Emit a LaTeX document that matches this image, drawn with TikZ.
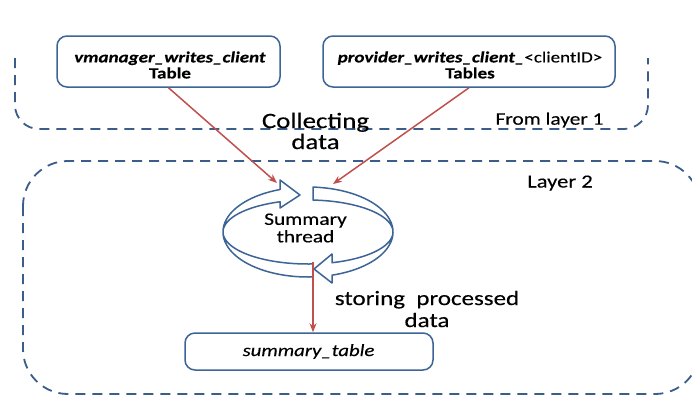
\documentclass[tikz,border=0pt]{standalone}
\usepackage{fontspec}
\setmainfont{Carlito}[FakeStretch=1.22, FakeBold=0.3]
\usetikzlibrary{arrows.meta}
\definecolor{dashblue}{RGB}{58,93,138}
\definecolor{boxblue}{RGB}{60,100,150}
\definecolor{arrred}{RGB}{192,80,77}
\tikzset{
  layer/.style={draw=dashblue, line width=1.8pt, dash pattern=on 10pt off 7pt},
  tbox/.style={draw=boxblue, line width=1.5pt, rounded corners=10pt, fill=white, inner sep=0pt},
  cyc/.style={draw=boxblue, line width=1.5pt, fill=white, line join=round},
  rarr/.style={draw=arrred, line width=1.5pt, -{Stealth[length=9pt,width=7pt]}},
  lbl/.style={align=center, inner sep=0pt, text=black}
}
\begin{document}
\begin{tikzpicture}[x=1pt,y=-1pt]
\clip (0,0) rectangle (692,397);
\fill[white] (0,0) rectangle (692,397);
% layer outlines
\draw[layer, rounded corners=24pt] (15,58) -- (15,129) -- (648,129) -- (648,58);
\draw[layer, rounded corners=45pt] (23,161) rectangle (700,394);
% boxes
\node[tbox, minimum width=223pt, minimum height=51pt] (b1) at (168.5,61.5) {};
\node[tbox, minimum width=292pt, minimum height=51pt] (b2) at (469,61.5) {};
\node[tbox, minimum width=248pt, minimum height=37pt] (st) at (309,351.5) {};
\node[lbl, font=\fontsize{15.6}{16}\selectfont] (b1t) at (170,65)
  {\textbf{\textit{vmanager\_writes\_client}}\\\textbf{Table}};
\node[lbl, font=\fontsize{15.6}{16}\selectfont] (b2t) at (470,65)
  {\textbf{\textit{provider\_writes\_client\_}}<clientID>\\\textbf{Tables}};
\node[lbl, font=\fontsize{17}{18}\selectfont] (stt) at (308.5,351.5) {\textit{summary\_table}};
% cycle arrows
\draw[cyc] plot[domain=86.6:250.8, samples=60] ({308+85*cos(\x)},{232+45*sin(\x)})
  -- (280,180) -- (300,195) -- (280,208)
  -- plot[domain=250.8:86.6, samples=60] ({308+85*cos(\x)},{232+32*sin(\x)}) -- cycle;
\draw[cyc] plot[domain=273.4:433.6, samples=60] ({308+85*cos(\x)},{232+45*sin(\x)})
  -- (332,283) -- (314,269) -- (332,254)
  -- plot[domain=433.6:273.4, samples=60] ({308+85*cos(\x)},{232+32*sin(\x)}) -- cycle;
\node[lbl, font=\fontsize{17.5}{17.5}\selectfont] (sum) at (305.5,228) {Summary\\thread};
% connector end points
\coordinate (c1) at (277,183);
\coordinate (c2) at (333,184);
\coordinate (c3) at (313,262);
\draw[rarr] (b1.south) -- (c1);
\draw[rarr] (b2.south) -- (c2);
\draw[rarr] (c3) -- (c3 |- st.north);
% labels
\node[lbl, font=\fontsize{22}{21}\selectfont] (col) at (315.5,131) {Collecting\\data};
\node[lbl, font=\fontsize{17.5}{18}\selectfont] (fl1) at (549.5,120) {From layer 1};
\node[lbl, font=\fontsize{18.5}{18}\selectfont] (l2) at (560,183) {Layer 2};
\node[lbl, font=\fontsize{20.5}{22}\selectfont] (sto) at (427,309) {storing\ \ processed\\data};
\end{tikzpicture}
\end{document}
